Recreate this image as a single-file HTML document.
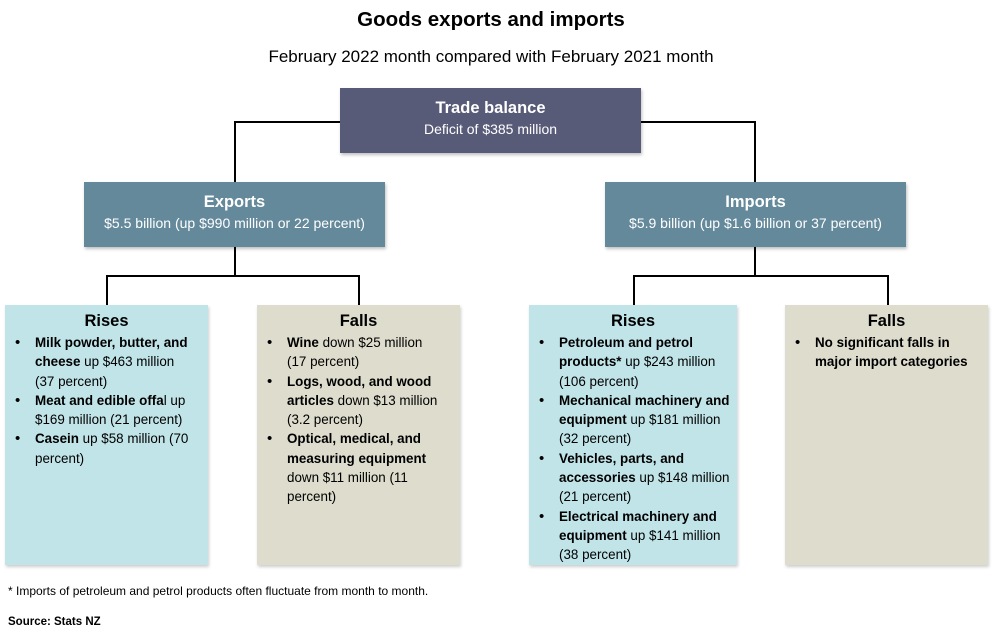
<!DOCTYPE html>
<html><head><meta charset="utf-8"><style>
body{margin:0;width:994px;height:639px;background:#fff;font-family:"Liberation Sans",sans-serif;position:relative;overflow:hidden;color:#000}
.a{position:absolute}
.box{position:absolute;color:#fff;text-align:center;box-shadow:1px 2px 3px rgba(0,0,0,0.25)}
.box b{display:block;font-size:16.5px;margin-top:11px}
.box span{display:block;font-size:14px;margin-top:3px}
.ln{position:absolute;background:#000}
.pan{position:absolute;top:305px;height:260px;width:203px;box-shadow:1px 2px 3px rgba(0,0,0,0.2)}
.pan h3{margin:7px 0 0;text-align:center;font-size:16.5px}
.pan ul{margin:2px 0 0;padding:0 0 0 30px;list-style:none;font-size:13.4px;line-height:19.3px;white-space:nowrap}
.pan li{position:relative}
.pan li:before{content:"\2022";position:absolute;left:-20px;font-size:15px}
</style></head><body>
<div class="a" style="left:0;width:982px;top:8px;text-align:center;font-weight:bold;font-size:20.5px">Goods exports and imports</div>
<div class="a" style="left:0;width:982px;top:47px;text-align:center;font-size:17px">February 2022 month compared with February 2021 month</div>

<div class="ln" style="left:234px;top:121px;width:106px;height:2px"></div>
<div class="ln" style="left:234px;top:121px;width:2px;height:61px"></div>
<div class="ln" style="left:641px;top:121px;width:115px;height:2px"></div>
<div class="ln" style="left:754px;top:121px;width:2px;height:61px"></div>
<div class="ln" style="left:234px;top:247px;width:2px;height:30px"></div>
<div class="ln" style="left:106px;top:275px;width:254px;height:2px"></div>
<div class="ln" style="left:106px;top:275px;width:2px;height:30px"></div>
<div class="ln" style="left:358px;top:275px;width:2px;height:30px"></div>
<div class="ln" style="left:754px;top:247px;width:2px;height:30px"></div>
<div class="ln" style="left:633px;top:275px;width:256px;height:2px"></div>
<div class="ln" style="left:633px;top:275px;width:2px;height:30px"></div>
<div class="ln" style="left:887px;top:275px;width:2px;height:30px"></div>

<div class="box" style="left:340px;top:88px;width:301px;height:65px;background:#585b78"><b>Trade balance</b><span>Deficit of $385 million</span></div>
<div class="box" style="left:84px;top:182px;width:301px;height:65px;background:#64899b"><b>Exports</b><span>$5.5 billion (up $990 million or 22 percent)</span></div>
<div class="box" style="left:605px;top:182px;width:301px;height:65px;background:#64899b"><b>Imports</b><span>$5.9 billion (up $1.6 billion or 37 percent)</span></div>

<div class="pan" style="left:5px;background:#c0e4e8"><h3>Rises</h3><ul>
<li><b>Milk powder, butter, and<br>cheese</b> up $463 million<br>(37 percent)</li>
<li><b>Meat and edible offa</b>l up<br>$169 million (21 percent)</li>
<li><b>Casein</b> up $58 million (70<br>percent)</li></ul></div>
<div class="pan" style="left:257px;background:#dedccd"><h3>Falls</h3><ul>
<li><b>Wine</b> down $25 million<br>(17 percent)</li>
<li><b>Logs, wood, and wood<br>articles</b> down $13 million<br>(3.2 percent)</li>
<li><b>Optical, medical, and<br>measuring equipment</b><br>down $11 million (11<br>percent)</li></ul></div>
<div class="pan" style="left:529px;width:208px;background:#c0e4e8"><h3>Rises</h3><ul>
<li><b>Petroleum and petrol<br>products*</b> up $243 million<br>(106 percent)</li>
<li><b>Mechanical machinery and<br>equipment</b> up $181 million<br>(32 percent)</li>
<li><b>Vehicles, parts, and<br>accessories</b> up $148 million<br>(21 percent)</li>
<li><b>Electrical machinery and<br>equipment</b> up $141 million<br>(38 percent)</li></ul></div>
<div class="pan" style="left:785px;background:#dedccd"><h3>Falls</h3><ul>
<li><b>No significant falls in<br>major import categories</b></li></ul></div>

<div class="a" style="left:8px;top:584px;font-size:12px">* Imports of petroleum and petrol products often fluctuate from month to month.</div>
<div class="a" style="left:8px;top:616px;font-size:11.5px;font-weight:bold">Source: Stats NZ</div>
</body></html>
